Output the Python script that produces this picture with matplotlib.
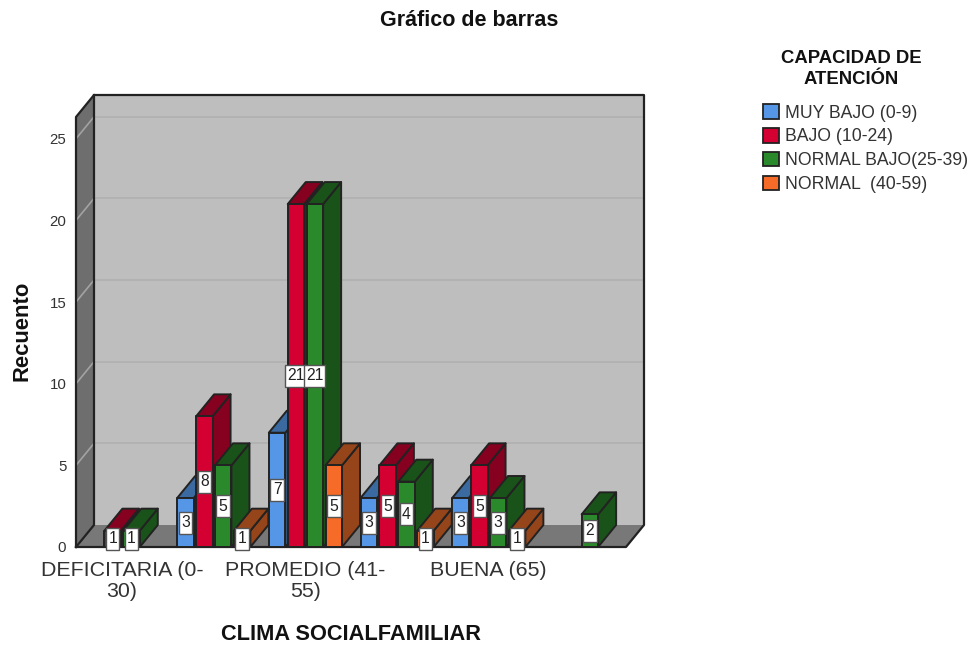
import matplotlib
matplotlib.use('Agg')
import matplotlib.pyplot as plt
from matplotlib.patches import Patch, Polygon, Rectangle

plt.rcParams['font.family'] = ['Liberation Sans', 'DejaVu Sans']

# data
categories = ['DEFICITARIA (0-\n30)', '', 'PROMEDIO (41-\n55)', '', 'BUENA (65)', '']
series_names = ['MUY BAJO (0-9)', 'BAJO (10-24)', 'NORMAL BAJO(25-39)', 'NORMAL  (40-59)']
muy_bajo = [0, 3, 7, 3, 3, 0]
bajo = [1, 8, 21, 5, 5, 0]
normal_bajo = [1, 5, 21, 4, 3, 2]
normal = [0, 1, 5, 1, 1, 0]
y_ticks = [0, 5, 10, 15, 20, 25]

front_colors = ['#5596E6', '#D50032', '#2A8A2B', '#F56B27']
side_colors = ['#3A6AA0', '#860020', '#1A5319', '#954519']
edge = '#222222'
text_color = '#333333'

W, H = 971, 645
fig = plt.figure(figsize=(W / 100, H / 100), dpi=100)

# axes box in pixels, includes the depth of the fake 3d walls
ax = fig.add_axes([76 / W, (H - 547) / H, 568 / W, 452 / H])
cat_px = 550 / 6
val_px = 16.33
ax.set_xlim(0, 568 / cat_px)
ax.set_ylim(0, 452 / val_px)
dx = 18 / cat_px
dy = 22 / val_px
x_end = len(categories)
y_top = 430 / val_px

ax.patch.set_visible(False)
for s in ax.spines.values():
    s.set_visible(False)


def poly(pts, color, z=1):
    ax.add_patch(Polygon(pts, closed=True, facecolor=color, edgecolor=edge, linewidth=1.4,
                         joinstyle='round', clip_on=False, zorder=z))


# walls and floor
ax.add_patch(Polygon([(dx, dy), (x_end + dx, dy), (x_end + dx, y_top + dy), (dx, y_top + dy)],
                     facecolor='#BEBEBE', edgecolor='none', zorder=1))
ax.add_patch(Polygon([(0, 0), (x_end, 0), (x_end + dx, dy), (dx, dy)],
                     facecolor='#787878', edgecolor='none', zorder=1))
ax.add_patch(Polygon([(0, 0), (dx, dy), (dx, y_top + dy), (0, y_top)],
                     facecolor='#6E6E6E', edgecolor='none', zorder=1))

for v in y_ticks[1:]:
    ax.plot([dx, x_end + dx], [v + dy, v + dy], color='#B0B0B0', lw=1.2, zorder=2)
    ax.plot([0, dx], [v, v + dy], color='#A3A3A3', lw=1.2, zorder=2)

ax.plot([0, x_end, x_end + dx, x_end + dx, dx, 0, 0], [0, 0, dy, y_top + dy, y_top + dy, y_top, 0],
        color=edge, lw=1.6, zorder=3, clip_on=False)
ax.plot([0, dx, dx], [0, dy, y_top + dy], color=edge, lw=1.6, zorder=3, clip_on=False)

# bars
all_series = [muy_bajo, bajo, normal_bajo, normal]
bar_w = 16.5 / cat_px
step = 18.9 / cat_px
start = 9.5 / cat_px
z = 10
for i in range(len(categories)):
    for j, vals in enumerate(all_series):
        v = vals[i]
        if v == 0:
            continue
        x0 = i + start + j * step
        x1 = x0 + bar_w
        poly([(x1, 0), (x1 + dx, dy), (x1 + dx, v + dy), (x1, v)], side_colors[j], z)
        poly([(x0, v), (x1, v), (x1 + dx, v + dy), (x0 + dx, v + dy)], side_colors[j], z)
        poly([(x0, 0), (x1, 0), (x1, v), (x0, v)], front_colors[j], z)
        z += 1

# value labels go on top of everything, box is taller than the text
for i in range(len(categories)):
    for j, vals in enumerate(all_series):
        v = vals[i]
        if v == 0:
            continue
        xc = i + start + j * step + bar_w / 2
        box_w = (6 + 7.5 * len(str(v))) / cat_px
        box_h = 22 / val_px
        ax.add_patch(Rectangle((xc - box_w / 2, v / 2 - box_h / 2), box_w, box_h, facecolor='white',
                               edgecolor='#555555', linewidth=1.0, zorder=100, clip_on=False))
        ax.text(xc, v / 2, str(v), ha='center', va='center', fontsize=11.3, color='#222222',
                zorder=101, clip_on=False)

# axes text
ax.set_xticks([i + 0.5 for i in range(len(categories))])
ax.set_xticklabels(categories, fontsize=15.4, color=text_color, linespacing=1.12)
ax.set_yticks(y_ticks)
ax.set_yticklabels([str(t) for t in y_ticks], fontsize=10.8, color=text_color)
ax.tick_params(axis='both', length=0)
ax.tick_params(axis='x', pad=10)
ax.tick_params(axis='y', pad=7)

fig.text(351 / W, 1 - 634 / H, 'CLIMA SOCIALFAMILIAR', fontsize=15.7, fontweight='bold', color='#111111',
         ha='center', va='center')
fig.text(22 / W, 1 - 331 / H, 'Recuento', fontsize=15.8, fontweight='bold', color='#111111',
         rotation=90, ha='center', va='center')
fig.text(469 / W, 1 - 20 / H, 'Gráfico de barras', fontsize=15.5, fontweight='bold', color='#111111',
         ha='center', va='center')

# legend
fig.text(851 / W, 1 - 69 / H, 'CAPACIDAD DE\nATENCIÓN', fontsize=13.3, fontweight='bold', color='#111111',
         ha='center', va='center', linespacing=1.25)
handles = [Patch(facecolor=c, edgecolor=edge, linewidth=1.3) for c in front_colors]
fig.legend(handles, series_names, loc='upper left', bbox_to_anchor=(761 / W, 1 - 102.5 / H), frameon=False,
           fontsize=12.7, labelcolor=text_color, handlelength=0.9, handleheight=0.9, handletextpad=0.35,
           labelspacing=0.36, borderpad=0.1, borderaxespad=0)

fig.savefig('out.png', dpi=100)
